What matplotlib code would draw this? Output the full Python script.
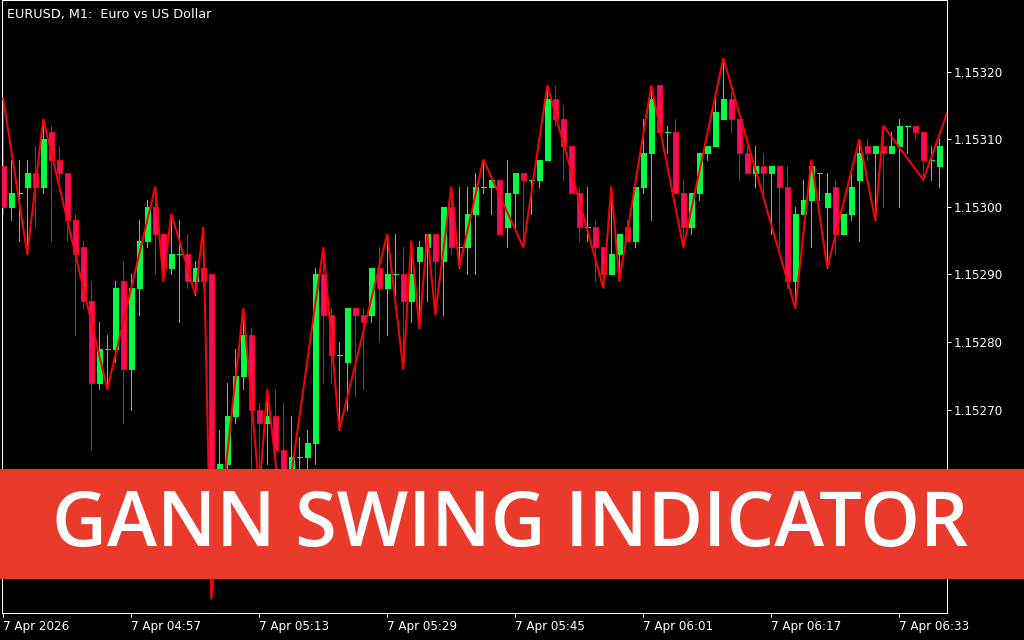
import matplotlib
matplotlib.use("Agg")
import matplotlib.pyplot as plt
from matplotlib.patches import Rectangle

# ---------------- data (EURUSD M1, 7 Apr 2026, from 04:41) ----------------
open_ = [1.15306, 1.15300, 1.15302, 1.15303, 1.15305, 1.15303, 1.15311, 1.15307, 1.15305, 1.15298,
         1.15294, 1.15286, 1.15274, 1.15279, 1.15279, 1.15289, 1.15276, 1.15288, 1.15295, 1.15300,
         1.15296, 1.15291, 1.15293, 1.15293, 1.15289, 1.15291, 1.15290, 1.15258, 1.15262, 1.15269,
         1.15275, 1.15281, 1.15270, 1.15268, 1.15269, 1.15264, 1.15258, 1.15263, 1.15263, 1.15265,
         1.15290, 1.15284, 1.15278, 1.15277, 1.15285, 1.15284, 1.15284, 1.15291, 1.15288, 1.15290,
         1.15290, 1.15286, 1.15292, 1.15294, 1.15296, 1.15292, 1.15300, 1.15294, 1.15294, 1.15299,
         1.15303, 1.15303, 1.15304, 1.15297, 1.15302, 1.15305, 1.15304, 1.15304, 1.15307, 1.15316,
         1.15313, 1.15309, 1.15302, 1.15297, 1.15297, 1.15294, 1.15290, 1.15293, 1.15297, 1.15295,
         1.15303, 1.15308, 1.15318, 1.15311, 1.15311, 1.15302, 1.15297, 1.15302, 1.15308, 1.15309,
         1.15313, 1.15316, 1.15313, 1.15308, 1.15305, 1.15306, 1.15305, 1.15306, 1.15303, 1.15289,
         1.15299, 1.15301, 1.15305, 1.15300, 1.15303, 1.15296, 1.15299, 1.15304, 1.15309, 1.15308,
         1.15309, 1.15308, 1.15309, 1.15312, 1.15312, 1.15311, 1.15307, 1.15306]
high = [1.15316, 1.15307, 1.15307, 1.15307, 1.15309, 1.15313, 1.15312, 1.15309, 1.15305, 1.15299,
        1.15295, 1.15289, 1.15283, 1.15281, 1.15289, 1.15292, 1.15290, 1.15298, 1.15301, 1.15303,
        1.15296, 1.15299, 1.15298, 1.15296, 1.15292, 1.15297, 1.15290, 1.15267, 1.15274, 1.15279,
        1.15285, 1.15282, 1.15271, 1.15273, 1.15273, 1.15271, 1.15269, 1.15266, 1.15267, 1.15291,
        1.15294, 1.15285, 1.15280, 1.15285, 1.15285, 1.15285, 1.15291, 1.15294, 1.15296, 1.15296,
        1.15294, 1.15295, 1.15295, 1.15296, 1.15296, 1.15300, 1.15303, 1.15303, 1.15303, 1.15305,
        1.15307, 1.15304, 1.15304, 1.15307, 1.15305, 1.15305, 1.15304, 1.15307, 1.15318, 1.15318,
        1.15315, 1.15309, 1.15303, 1.15303, 1.15298, 1.15294, 1.15303, 1.15296, 1.15298, 1.15303,
        1.15313, 1.15318, 1.15318, 1.15312, 1.15313, 1.15304, 1.15302, 1.15308, 1.15309, 1.15316,
        1.15322, 1.15317, 1.15313, 1.15309, 1.15309, 1.15308, 1.15306, 1.15306, 1.15306, 1.15300,
        1.15304, 1.15307, 1.15305, 1.15305, 1.15304, 1.15299, 1.15305, 1.15310, 1.15310, 1.15309,
        1.15312, 1.15311, 1.15313, 1.15312, 1.15312, 1.15311, 1.15309, 1.15310]
low = [1.15299, 1.15298, 1.15295, 1.15293, 1.15297, 1.15302, 1.15295, 1.15304, 1.15295, 1.15281,
       1.15285, 1.15264, 1.15273, 1.15273, 1.15277, 1.15268, 1.15270, 1.15284, 1.15294, 1.15290,
       1.15289, 1.15290, 1.15283, 1.15288, 1.15287, 1.15288, 1.15242, 1.15255, 1.15260, 1.15268,
       1.15273, 1.15260, 1.15258, 1.15262, 1.15260, 1.15252, 1.15256, 1.15260, 1.15260, 1.15262,
       1.15274, 1.15274, 1.15267, 1.15270, 1.15272, 1.15273, 1.15283, 1.15280, 1.15281, 1.15287,
       1.15276, 1.15283, 1.15282, 1.15286, 1.15284, 1.15284, 1.15293, 1.15291, 1.15290, 1.15290,
       1.15302, 1.15299, 1.15296, 1.15294, 1.15297, 1.15294, 1.15299, 1.15303, 1.15307, 1.15312,
       1.15304, 1.15302, 1.15295, 1.15295, 1.15289, 1.15288, 1.15290, 1.15289, 1.15295, 1.15294,
       1.15302, 1.15298, 1.15311, 1.15308, 1.15302, 1.15294, 1.15296, 1.15301, 1.15307, 1.15309,
       1.15313, 1.15311, 1.15304, 1.15305, 1.15303, 1.15302, 1.15296, 1.15294, 1.15288, 1.15285,
       1.15299, 1.15294, 1.15301, 1.15291, 1.15293, 1.15296, 1.15298, 1.15295, 1.15307, 1.15298,
       1.15300, 1.15308, 1.15300, 1.15308, 1.15310, 1.15304, 1.15304, 1.15303]
close = [1.15300, 1.15302, 1.15302, 1.15305, 1.15303, 1.15310, 1.15307, 1.15305, 1.15298, 1.15293,
         1.15286, 1.15274, 1.15279, 1.15279, 1.15288, 1.15276, 1.15288, 1.15295, 1.15300, 1.15296,
         1.15291, 1.15293, 1.15293, 1.15289, 1.15291, 1.15289, 1.15260, 1.15262, 1.15269, 1.15275,
         1.15281, 1.15270, 1.15268, 1.15269, 1.15264, 1.15258, 1.15263, 1.15263, 1.15265, 1.15290,
         1.15284, 1.15278, 1.15278, 1.15285, 1.15284, 1.15283, 1.15291, 1.15288, 1.15290, 1.15290,
         1.15286, 1.15290, 1.15294, 1.15296, 1.15292, 1.15300, 1.15294, 1.15294, 1.15299, 1.15303,
         1.15303, 1.15304, 1.15296, 1.15302, 1.15305, 1.15304, 1.15304, 1.15307, 1.15316, 1.15313,
         1.15309, 1.15302, 1.15297, 1.15297, 1.15294, 1.15290, 1.15293, 1.15296, 1.15295, 1.15303,
         1.15308, 1.15316, 1.15311, 1.15311, 1.15302, 1.15297, 1.15302, 1.15308, 1.15309, 1.15314,
         1.15316, 1.15313, 1.15308, 1.15305, 1.15306, 1.15305, 1.15306, 1.15303, 1.15289, 1.15299,
         1.15301, 1.15306, 1.15305, 1.15302, 1.15296, 1.15299, 1.15303, 1.15308, 1.15308, 1.15309,
         1.15308, 1.15309, 1.15312, 1.15312, 1.15311, 1.15307, 1.15307, 1.15309]

# Gann swing (zigzag) vertices: bar index and price
swing_idx = [0, 3, 5, 13, 19, 20, 21, 24, 25, 26, 30, 32, 33, 35, 40, 42, 48, 50, 51, 52,
             53, 54, 56, 57, 60, 65, 68, 75, 76, 77, 81, 85, 90, 99, 101, 103, 107, 109, 110, 115, 118]
swing_price = [1.15316, 1.15293, 1.15313, 1.15273, 1.15303, 1.15289, 1.15299, 1.15287, 1.15297, 1.15242,
               1.15285, 1.15258, 1.15273, 1.15252, 1.15294, 1.15267, 1.15296, 1.15276, 1.15295, 1.15282,
               1.15296, 1.15284, 1.15303, 1.15291, 1.15307, 1.15294, 1.15318, 1.15288, 1.15303, 1.15289,
               1.15318, 1.15294, 1.15322, 1.15285, 1.15307, 1.15291, 1.15310, 1.15298, 1.15312, 1.15304,
               1.15314]

xtick_bars = [0, 16, 32, 48, 64, 80, 96, 112]
xtick_labels = ["7 Apr 2026", "7 Apr 04:57", "7 Apr 05:13", "7 Apr 05:29",
                "7 Apr 05:45", "7 Apr 06:01", "7 Apr 06:17", "7 Apr 06:33"]
ytick_values = [1.15270, 1.15280, 1.15290, 1.15300, 1.15310, 1.15320]

title_text = "EURUSD, M1:  Euro vs US Dollar"
banner_text = "GANN SWING INDICATOR"

# ---------------- styling ----------------
BULL = "#00FF40"
BEAR_FACE = "#FF0A64"
BEAR_EDGE = "#FF0000"
ZIGZAG = "#FF0000"
BANNER = "#E93A2C"

W, H, DPI = 1024, 640, 100
fig = plt.figure(figsize=(W / DPI, H / DPI), dpi=DPI, facecolor="black")
px = 72.0 / DPI  # points per pixel

ax_left, ax_right, ax_top, ax_bottom = 2, 947, 0, 613
ax = fig.add_axes([ax_left / W, 1 - ax_bottom / H, (ax_right - ax_left) / W, (ax_bottom - ax_top) / H])
ax.set_facecolor("black")

n = len(open_)
xs = list(range(n))
colors = [BULL if c >= o else BEAR_EDGE for o, c in zip(open_, close)]
faces = [BULL if c >= o else BEAR_FACE for o, c in zip(open_, close)]

ax.vlines(xs, low, high, colors=colors, linewidth=1.0 * px, antialiased=False, zorder=2)
bottoms = [min(o, c) for o, c in zip(open_, close)]
heights = [abs(c - o) for o, c in zip(open_, close)]
ax.bar(xs, heights, bottom=bottoms, width=0.62, color=faces, edgecolor=colors,
       linewidth=1.0 * px, antialiased=False, zorder=3)

ax.plot(swing_idx, swing_price, color=ZIGZAG, linewidth=2.0 * px, zorder=4, solid_joinstyle="miter")

ax.set_xlim(-0.16, 117.96)
ax.set_ylim(1.152399, 1.153306)

ax.set_xticks(xtick_bars)
ax.set_xticklabels(xtick_labels)
for lbl in ax.get_xticklabels():
    lbl.set_horizontalalignment("left")
ax.yaxis.tick_right()
ax.set_yticks(ytick_values)
ax.set_yticklabels([f"{v:.5f}" for v in ytick_values])

ax.tick_params(axis="both", colors="white", labelcolor="white", length=4 * px, width=1 * px,
               labelsize=8.6, direction="out")
ax.tick_params(axis="x", pad=2.5)
ax.tick_params(axis="y", pad=2.0)
for sp in ax.spines.values():
    sp.set_color("white")
    sp.set_linewidth(1 * px)

fig.text(7 / W, 1 - 17.7 / H, title_text, color="white", fontsize=9.2,
         ha="left", va="baseline", family="DejaVu Sans")

# banner
fig.patches.append(Rectangle((0, 1 - 579 / H), 1, 110 / H, transform=fig.transFigure,
                             facecolor=BANNER, edgecolor="none", zorder=10))
bt = fig.text(0.5 * (37 + 983) / W, 1 - 546 / H, banner_text, color="white",
              fontsize=52, fontweight="semibold", family="Open Sans",
              ha="center", va="baseline", zorder=11)
# size banner text to a width close to the reference span
fig.canvas.draw()
bb = bt.get_window_extent()
bt.set_fontsize(52 * 915.0 / bb.width)

fig.savefig("out.png", dpi=DPI, facecolor="black")
